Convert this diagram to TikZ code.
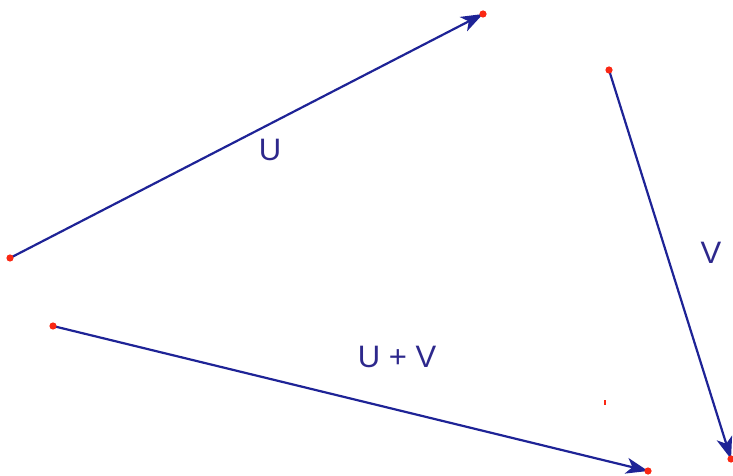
\documentclass[tikz,border=0pt]{standalone}
\usepackage{fontspec}
\setmainfont{Liberation Sans}
\usetikzlibrary{arrows.meta}
\definecolor{vecblue}{RGB}{30,35,150}
\definecolor{txtblue}{RGB}{45,40,140}
\definecolor{dotred}{RGB}{250,40,20}
\begin{document}
\begin{tikzpicture}[x=0.5pt,y=-0.5pt,
  vec/.style={draw=vecblue,line width=1.1pt,-{Stealth[length=11pt,width=8pt,inset=3pt]}},
  lbl/.style={text=txtblue,font=\fontsize{15.5}{18}\selectfont,inner sep=0pt},
  pt/.style={fill=dotred}]
\useasboundingbox (0,0) rectangle (733,476);
\coordinate (u0) at (10,258);
\coordinate (u1) at (483,14);
\coordinate (v0) at (609,70);
\coordinate (v1) at (731,459);
\coordinate (s0) at (53,326);
\coordinate (s1) at (648,471);
\draw[vec] (u0) -- (u1);
\draw[vec] (v0) -- (v1);
\draw[vec] (s0) -- (s1);
\foreach \p in {u0,u1,v0,v1,s0,s1} \fill[pt] (\p) circle (3.6);
\fill[pt] (603.5,399.5) rectangle (606,404.5);
\node[lbl] (lu) at (270,150) {U};
\node[lbl] (lv) at (711,253) {V};
\node[lbl] (ls) at (397,357) {U + V};
\end{tikzpicture}
\end{document}
